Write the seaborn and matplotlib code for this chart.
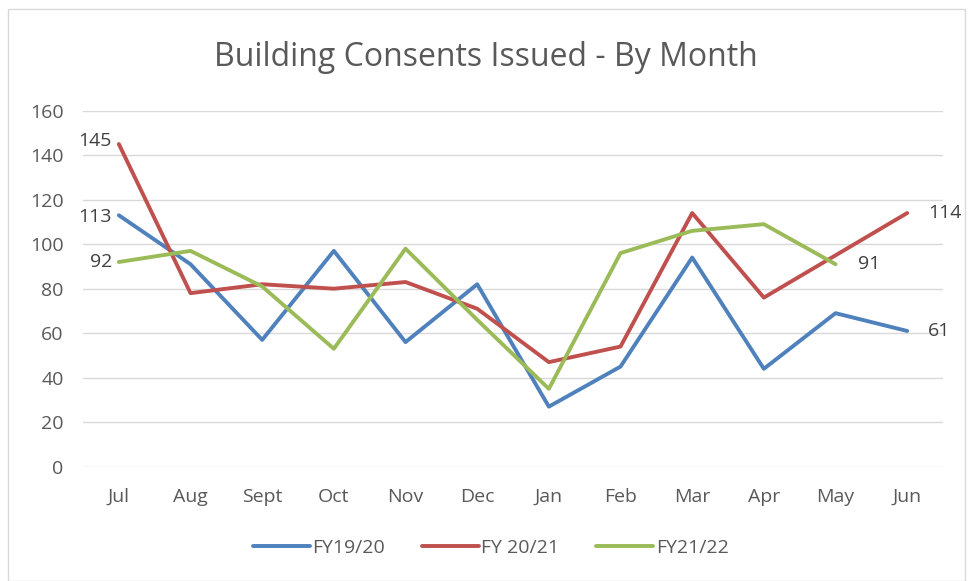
import pandas as pd
import matplotlib.pyplot as plt
import seaborn as sns
from matplotlib.patches import Rectangle

# Data
months = ["Jul", "Aug", "Sept", "Oct", "Nov", "Dec", "Jan", "Feb", "Mar", "Apr", "May", "Jun"]
fy1920 = [113, 91, 57, 97, 56, 82, 27, 45, 94, 44, 69, 61]
fy2021 = [145, 78, 82, 80, 83, 71, 47, 54, 114, 76, 95, 114]
fy2122 = [92, 97, 81, 53, 98, 66, 35, 96, 106, 109, 91, None]
series_names = ["FY19/20", "FY 20/21", "FY21/22"]
colors = ["#4f81bd", "#c0504d", "#9bbb59"]

rows = []
for name, vals in zip(series_names, [fy1920, fy2021, fy2122]):
    for i, v in enumerate(vals):
        if v is not None:
            rows.append({"month": months[i], "pos": i, "value": v, "series": name})
df = pd.DataFrame(rows)

sns.set_style("white")
plt.rcParams["font.family"] = ["Open Sans", "DejaVu Sans"]

fig = plt.figure(figsize=(9.72, 5.81), dpi=100)
ax = fig.add_axes([0.0854, 0.1967, 0.8848, 0.6128])

sns.lineplot(data=df, x="pos", y="value", hue="series", palette=colors,
             hue_order=series_names, linewidth=2.8, ax=ax, legend=True)

ax.set_xlim(-0.5, 11.5)
ax.set_ylim(0, 160)
ax.set_yticks(range(0, 161, 20))
ax.set_xticks(range(len(months)))
ax.set_xticklabels(months)
ax.set_xlabel("")
ax.set_ylabel("")
ax.grid(axis="y", color="#d9d9d9", linewidth=1)
for s in ax.spines.values():
    s.set_visible(False)
ax.tick_params(axis="both", colors="#595959", labelsize=14, length=0)
ax.tick_params(axis="y", pad=14)
ax.tick_params(axis="x", pad=15)

# Data labels at line ends
lab = dict(fontsize=14, color="#404040", va="center")
ax.annotate(str(fy2021[0]), (0, fy2021[0]), xytext=(-5, 2), textcoords="offset points", ha="right", **lab)
ax.annotate(str(fy1920[0]), (0, fy1920[0]), xytext=(-5, -1), textcoords="offset points", ha="right", **lab)
ax.annotate(str(fy2122[0]), (0, fy2122[0]), xytext=(-5, 0), textcoords="offset points", ha="right", **lab)
ax.annotate(str(fy2021[11]), (11, fy2021[11]), xytext=(15, 0), textcoords="offset points", ha="left", **lab)
ax.annotate(str(fy1920[11]), (11, fy1920[11]), xytext=(15, 0), textcoords="offset points", ha="left", **lab)
ax.annotate(str(fy2122[10]), (10, fy2122[10]), xytext=(16, 0), textcoords="offset points", ha="left", **lab)

fig.text(0.5, 1 - 57 / 581, "Building Consents Issued - By Month", ha="center", va="center",
         fontsize=23, color="#595959")

ax.get_legend().remove()
handles, labels = ax.get_legend_handles_labels()
leg = fig.legend(handles, labels, loc="center", bbox_to_anchor=(0.505, 1 - 548 / 581), ncol=3,
                 frameon=False, fontsize=14, handlelength=2.9, handletextpad=0.15,
                 columnspacing=1.9)
for t in leg.get_texts():
    t.set_color("#595959")

# Chart border
fig.patches.append(Rectangle((0.008, 0.0), 0.985, 0.985, transform=fig.transFigure,
                             fill=False, edgecolor="#d9d9d9", linewidth=1))

fig.savefig("out.png", dpi=100)
